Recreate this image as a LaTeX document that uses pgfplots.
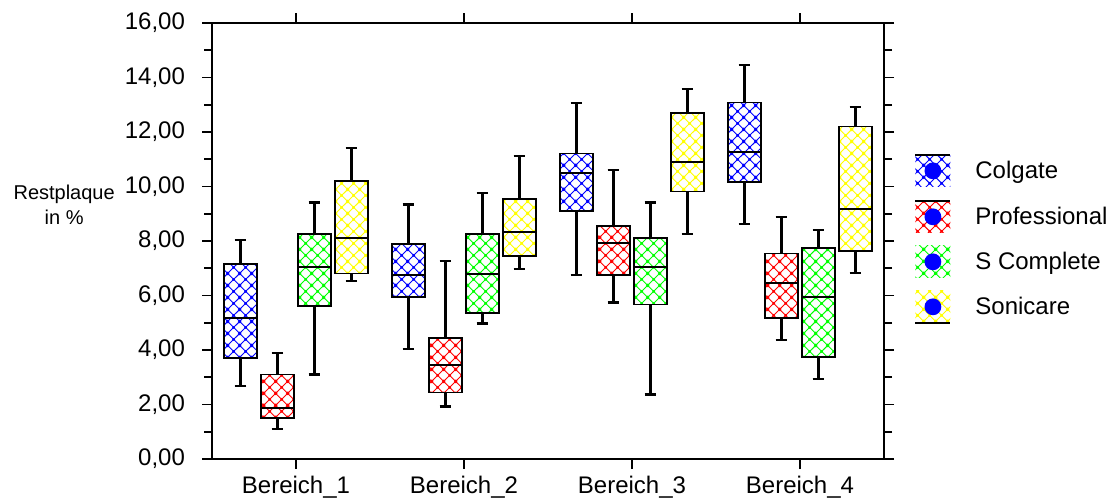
\documentclass[border=0pt]{standalone}
\usepackage{fontspec}
\setmainfont{Liberation Sans}
\usepackage{pgfplots}
\pgfplotsset{compat=1.18}
\usepgfplotslibrary{statistics}
\usetikzlibrary{patterns.meta}
\tikzdeclarepattern{
  name=xhatch,
  type=uncolored,
  bottom left={(0pt,0pt)},
  top right={(6pt,6pt)},
  tile size={(6pt,6pt)},
  code={
    \draw[line width=0.5pt] (0pt,0pt) -- (6pt,6pt) (0pt,6pt) -- (6pt,0pt);
    \fill (3pt,3pt) circle (0.8pt);
    \fill (0pt,0pt) circle (0.8pt) (6pt,0pt) circle (0.8pt) (0pt,6pt) circle (0.8pt) (6pt,6pt) circle (0.8pt);
  }
}
\definecolor{cBlue}{RGB}{0,0,255}
\definecolor{cRed}{RGB}{255,0,0}
\definecolor{cGreen}{RGB}{0,255,0}
\definecolor{cYellow}{RGB}{255,255,0}
\pgfplotsset{
  bx/.style={draw=black, line width=0.9pt, pattern=xhatch, pattern color=#1, mark=none, forget plot},
}
\begin{document}
\begin{tikzpicture}
\useasboundingbox (0,0) rectangle (558.5pt,250pt);
\clip (0,0) rectangle (558.5pt,250pt);
\begin{axis}[
  at={(106pt,20.5pt)}, anchor=south west,
  width=336pt, height=218pt, scale only axis,
  xmin=0.5, xmax=4.5, ymin=0, ymax=16,
  boxplot/draw direction=y,
  boxplot/every whisker/.style={draw=black, line width=1.1pt},
  boxplot/every median/.style={draw=black, line width=1.0pt},
  axis line style={line width=0.8pt},
  xtick={1,2,3,4},
  xticklabels={Bereich\_1,Bereich\_2,Bereich\_3,Bereich\_4},
  ytick={0,2,...,16},
  minor y tick num=1,
  tick align=outside,
  major tick length=5pt,
  minor tick length=4pt,
  tick style={black, line width=0.8pt},
  /pgf/number format/assume math mode=true,
  yticklabel style={xshift=-5pt, /pgf/number format/.cd, fixed, fixed zerofill, precision=2, use comma},
  ticklabel style={font=\fontsize{12}{14}\selectfont},
  ylabel={Restplaque\\in \%},
  ylabel style={rotate=-90, align=center, font=\fontsize{10}{12.5}\selectfont, at={(axis description cs:-0.22,0.583)}, anchor=center},
  legend style={draw=none, fill=none, at={(1,0.505)}, anchor=west, xshift=12pt,
    font=\fontsize{12}{14}\selectfont, row sep=6.5pt, column sep=12pt,
    nodes={inner sep=0pt}},
  legend cell align=left,
  legend columns=1,
]
% Bereich_1
\addplot[bx=cBlue, boxplot prepared={draw position=0.67, lower whisker=2.67, lower quartile=3.72, median=5.17, upper quartile=7.17, upper whisker=8.05, box extend=0.2, whisker extend=0.07}] coordinates {};
\addplot[bx=cRed, boxplot prepared={draw position=0.89, lower whisker=1.09, lower quartile=1.51, median=1.89, upper quartile=3.10, upper whisker=3.89, box extend=0.2, whisker extend=0.07}] coordinates {};
\addplot[bx=cGreen, boxplot prepared={draw position=1.11, lower whisker=3.10, lower quartile=5.62, median=7.03, upper quartile=8.26, upper whisker=9.41, box extend=0.2, whisker extend=0.07}] coordinates {};
\addplot[bx=cYellow, boxplot prepared={draw position=1.33, lower whisker=6.53, lower quartile=6.81, median=8.12, upper quartile=10.19, upper whisker=11.41, box extend=0.2, whisker extend=0.07}] coordinates {};
% Bereich_2
\addplot[bx=cBlue, boxplot prepared={draw position=1.67, lower whisker=4.03, lower quartile=5.96, median=6.77, upper quartile=7.89, upper whisker=9.34, box extend=0.2, whisker extend=0.07}] coordinates {};
\addplot[bx=cRed, boxplot prepared={draw position=1.89, lower whisker=1.93, lower quartile=2.44, median=3.45, upper quartile=4.45, upper whisker=7.27, box extend=0.2, whisker extend=0.07}] coordinates {};
\addplot[bx=cGreen, boxplot prepared={draw position=2.11, lower whisker=4.97, lower quartile=5.37, median=6.80, upper quartile=8.26, upper whisker=9.76, box extend=0.2, whisker extend=0.07}] coordinates {};
\addplot[bx=cYellow, boxplot prepared={draw position=2.33, lower whisker=6.97, lower quartile=7.46, median=8.33, upper quartile=9.53, upper whisker=11.12, box extend=0.2, whisker extend=0.07}] coordinates {};
% Bereich_3
\addplot[bx=cBlue, boxplot prepared={draw position=2.67, lower whisker=6.74, lower quartile=9.11, median=10.50, upper quartile=11.21, upper whisker=13.06, box extend=0.2, whisker extend=0.07}] coordinates {};
\addplot[bx=cRed, boxplot prepared={draw position=2.89, lower whisker=5.74, lower quartile=6.74, median=7.93, upper quartile=8.54, upper whisker=10.61, box extend=0.2, whisker extend=0.07}] coordinates {};
\addplot[bx=cGreen, boxplot prepared={draw position=3.11, lower whisker=2.37, lower quartile=5.67, median=7.03, upper quartile=8.11, upper whisker=9.41, box extend=0.2, whisker extend=0.07}] coordinates {};
\addplot[bx=cYellow, boxplot prepared={draw position=3.33, lower whisker=8.27, lower quartile=9.82, median=10.91, upper quartile=12.71, upper whisker=13.57, box extend=0.2, whisker extend=0.07}] coordinates {};
% Bereich_4
\addplot[bx=cBlue, boxplot prepared={draw position=3.67, lower whisker=8.62, lower quartile=10.18, median=11.27, upper quartile=13.08, upper whisker=14.45, box extend=0.2, whisker extend=0.07}] coordinates {};
\addplot[bx=cRed, boxplot prepared={draw position=3.89, lower whisker=4.38, lower quartile=5.17, median=6.45, upper quartile=7.54, upper whisker=8.89, box extend=0.2, whisker extend=0.07}] coordinates {};
\addplot[bx=cGreen, boxplot prepared={draw position=4.11, lower whisker=2.95, lower quartile=3.73, median=5.96, upper quartile=7.74, upper whisker=8.39, box extend=0.2, whisker extend=0.07}] coordinates {};
\addplot[bx=cYellow, boxplot prepared={draw position=4.33, lower whisker=6.83, lower quartile=7.63, median=9.19, upper quartile=12.20, upper whisker=12.92, box extend=0.2, whisker extend=0.07}] coordinates {};
% legend
\addlegendimage{draw=none, legend image code/.code={
  \path[draw=none, pattern=xhatch, pattern color=cBlue] (0pt,-8pt) rectangle (17.5pt,8pt);
  \draw[black, line width=1pt] (0pt,8pt) -- (17.5pt,8pt);
  \path[draw=none, fill=cBlue] (8.75pt,0pt) circle (4.2pt);}}
\addlegendentry{Colgate}
\addlegendimage{draw=none, legend image code/.code={
  \path[draw=none, pattern=xhatch, pattern color=cRed] (0pt,-8pt) rectangle (17.5pt,8pt);
  \draw[black, line width=1pt] (0pt,8pt) -- (17.5pt,8pt);
  \path[draw=none, fill=cBlue] (8.75pt,0pt) circle (4.2pt);}}
\addlegendentry{Professional}
\addlegendimage{draw=none, legend image code/.code={
  \path[draw=none, pattern=xhatch, pattern color=cGreen] (0pt,-8pt) rectangle (17.5pt,8pt);
  \path[draw=none, fill=cBlue] (8.75pt,0pt) circle (4.2pt);}}
\addlegendentry{S Complete}
\addlegendimage{draw=none, legend image code/.code={
  \path[draw=none, pattern=xhatch, pattern color=cYellow] (0pt,-8pt) rectangle (17.5pt,8pt);
  \draw[black, line width=1pt] (0pt,-8pt) -- (17.5pt,-8pt);
  \path[draw=none, fill=cBlue] (8.75pt,0pt) circle (4.2pt);}}
\addlegendentry{Sonicare}
\end{axis}
\end{tikzpicture}
\end{document}
